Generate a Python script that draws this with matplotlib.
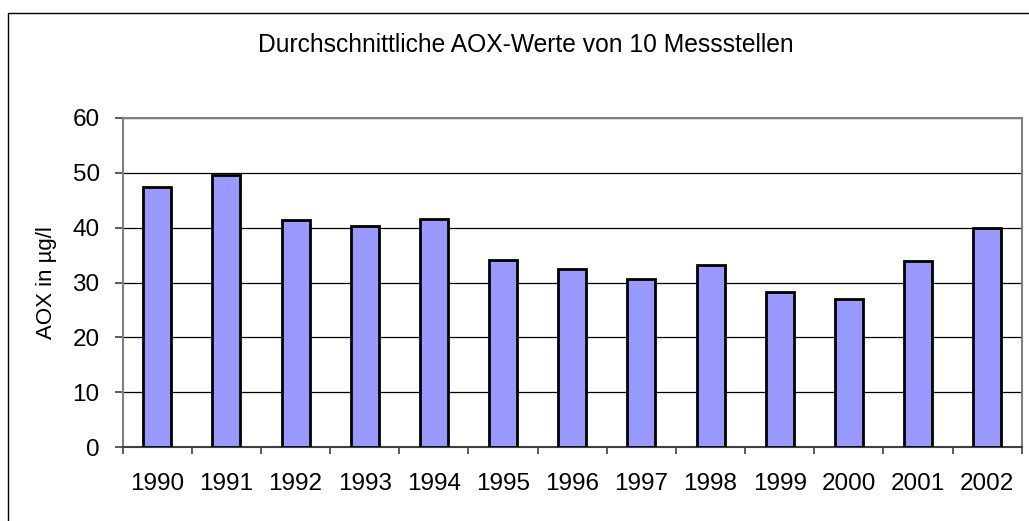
import matplotlib.pyplot as plt
from matplotlib.patches import Rectangle
import numpy as np

plt.rcParams['font.family'] = ['Liberation Sans', 'DejaVu Sans']

years = ['1990', '1991', '1992', '1993', '1994', '1995', '1996',
         '1997', '1998', '1999', '2000', '2001', '2002']
aox = [47.4, 49.5, 41.3, 40.3, 41.5, 34.1, 32.4, 30.6, 33.2, 28.3, 27.0, 33.9, 40.0]

W, H = 1029, 521
fig = plt.figure(figsize=(W / 100, H / 100), dpi=100)
ax = fig.add_axes([122.7 / W, 1 - 447.3 / H, 899 / W, 329.6 / H])

# outer chart frame (runs off the right and bottom edge)
fig.patches.append(Rectangle((8.3 / W, -0.05), 1.1, 1 - 13 / H + 0.05,
                             transform=fig.transFigure, fill=False,
                             edgecolor='black', linewidth=1.0))

x = np.arange(len(years))
ax.bar(x, aox, width=0.405, color='#9999FF', edgecolor='black', linewidth=2,
       zorder=3)

ax.set_xlim(-0.5, len(years) - 0.5)
ax.set_ylim(0, 60)
ax.set_yticks(range(0, 61, 10))
ax.yaxis.grid(True, color='black', linewidth=0.9)
ax.set_axisbelow(True)

ax.set_xticks(x)
ax.set_xticklabels(years)
ax.set_xticks(np.arange(-0.5, len(years)), minor=True)
ax.tick_params(axis='x', which='major', length=0, pad=18.5, labelsize=17.5)
ax.tick_params(axis='x', which='minor', length=5, width=1.2, color='#404040')
ax.tick_params(axis='y', length=5.8, width=1.2, color='#404040', labelsize=17.5,
               pad=10.8)

for s in ax.spines.values():
    s.set_color('#808080')
    s.set_linewidth(1.5)
ax.spines['bottom'].set_color('#404040')

fig.text(46.5 / W, 1 - 282.5 / H, 'AOX in µg/l', rotation=90,
         ha='center', va='center', fontsize=16)
fig.text(526 / W, 1 - 51.7 / H, 'Durchschnittliche AOX-Werte von 10 Messstellen',
         ha='center', va='baseline', fontsize=17.7)

fig.savefig('out.png', dpi=100)
